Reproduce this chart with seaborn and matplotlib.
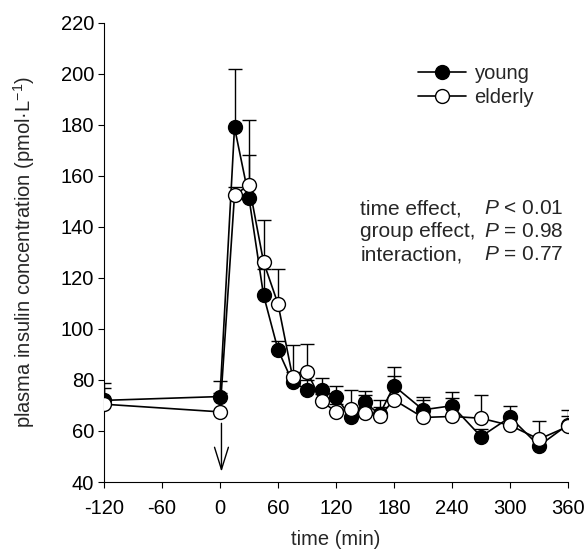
import numpy as np
import pandas as pd
import seaborn as sns
import matplotlib.pyplot as plt
from matplotlib.lines import Line2D

# plasma insulin (pmol/L), mean and upper SEM
time_min = [-120, 0, 15, 30, 45, 60, 75, 90, 105, 120, 135, 150, 165, 180, 210, 240, 270, 300, 330, 360]
young = [72.0, 73.5, 179.0, 151.3, 113.3, 91.8, 79.2, 76.1, 76.1, 73.5, 65.4, 71.2, 66.5, 77.7,
         68.3, 69.9, 57.8, 65.4, 54.2, 62.5]
young_sem = [7.0, 6.0, 23.0, 16.7, 10.0, 3.6, 4.0, 4.0, 4.6, 4.2, 3.0, 4.3, 3.0, 7.4,
             5.2, 5.3, 3.0, 4.5, 3.0, 3.5]
elderly = [70.5, 67.5, 152.5, 156.4, 126.3, 109.8, 81.3, 83.3, 71.6, 67.6, 68.7, 67.0, 65.7, 72.2,
           65.3, 65.7, 65.0, 62.2, 56.8, 61.8]
elderly_sem = [6.5, 7.5, 3.0, 25.6, 16.4, 13.7, 12.5, 10.7, 3.0, 3.0, 7.4, 7.2, 6.3, 9.5,
               6.7, 7.2, 9.2, 3.0, 7.3, 6.3]

x_ticks = [-120, -60, 0, 60, 120, 180, 240, 300, 360]
y_ticks = [40, 60, 80, 100, 120, 140, 160, 180, 200, 220]
group_names = ["young", "elderly"]
stats_labels = ["time effect,", "group effect,", "interaction,"]
stats_values = ["$P$ < 0.01", "$P$ = 0.98", "$P$ = 0.77"]

df = pd.DataFrame({"time": time_min, "young": young, "elderly": elderly})

sns.set_style("ticks")
plt.rcParams["font.family"] = ["Liberation Sans", "DejaVu Sans"]
plt.rcParams["mathtext.fontset"] = "custom"
plt.rcParams["mathtext.rm"] = "Liberation Sans"
plt.rcParams["mathtext.it"] = "Liberation Sans:italic"
plt.rcParams["axes.unicode_minus"] = False
fs = 14.5

fig = plt.figure(figsize=(5.86, 5.5), dpi=100)
ax = fig.add_axes([0.1775, 0.1236, 0.7918, 0.835])

# upper error bars only, behind the markers
zeros = np.zeros(len(time_min))
ax.errorbar(time_min, young, yerr=[zeros, young_sem], fmt="none", ecolor="black",
            elinewidth=1, capsize=5, capthick=1, zorder=2)
ax.errorbar(time_min, elderly, yerr=[zeros, elderly_sem], fmt="none", ecolor="black",
            elinewidth=1, capsize=5, capthick=1, zorder=2)

sns.lineplot(data=df, x="time", y="young", ax=ax, color="black", marker="o", markersize=10,
             markerfacecolor="black", markeredgecolor="black", markeredgewidth=1,
             linewidth=1.2, zorder=3)
sns.lineplot(data=df, x="time", y="elderly", ax=ax, color="black", marker="o", markersize=10,
             markerfacecolor="white", markeredgecolor="black", markeredgewidth=1,
             linewidth=1.2, zorder=4)

# injection arrow at time 0
ax.annotate("", xy=(1.5, 44), xytext=(1.5, 63),
            arrowprops=dict(arrowstyle="->,head_length=0.8,head_width=0.25", color="black",
                            lw=1, mutation_scale=20, shrinkA=0, shrinkB=0))

ax.set_xlim(-120, 360)
ax.set_ylim(40, 220)
ax.set_xticks(x_ticks)
ax.set_yticks(y_ticks)
ax.tick_params(direction="out", length=4, width=0.8, labelsize=fs, colors="black", pad=3)
ax.tick_params(axis="x", pad=8)
for side in ["top", "right"]:
    ax.spines[side].set_visible(False)
for side in ["left", "bottom"]:
    ax.spines[side].set_color("black")
    ax.spines[side].set_linewidth(0.8)

ax.set_xlabel("time (min)", fontsize=fs, labelpad=9)
ax.set_ylabel("plasma insulin concentration (pmol\u00b7L$^{-1}$)", fontsize=fs, labelpad=17)

handles = [Line2D([], [], color="black", marker="o", markersize=10, markerfacecolor="black",
                  markeredgecolor="black", linewidth=1.2),
           Line2D([], [], color="black", marker="o", markersize=10, markerfacecolor="white",
                  markeredgecolor="black", linewidth=1.2)]
ax.legend(handles, group_names, loc="upper left", bbox_to_anchor=(0.677, 0.91), frameon=False,
          fontsize=fs, handlelength=2.4, handletextpad=0.4, labelspacing=0.25,
          borderpad=0, borderaxespad=0)

for i in range(3):
    y = 0.595 - i * 0.05
    ax.text(0.552, y, stats_labels[i], transform=ax.transAxes, fontsize=15, va="center")
    ax.text(0.819, y, stats_values[i], transform=ax.transAxes, fontsize=15, va="center")

fig.savefig("out.png", dpi=100)
